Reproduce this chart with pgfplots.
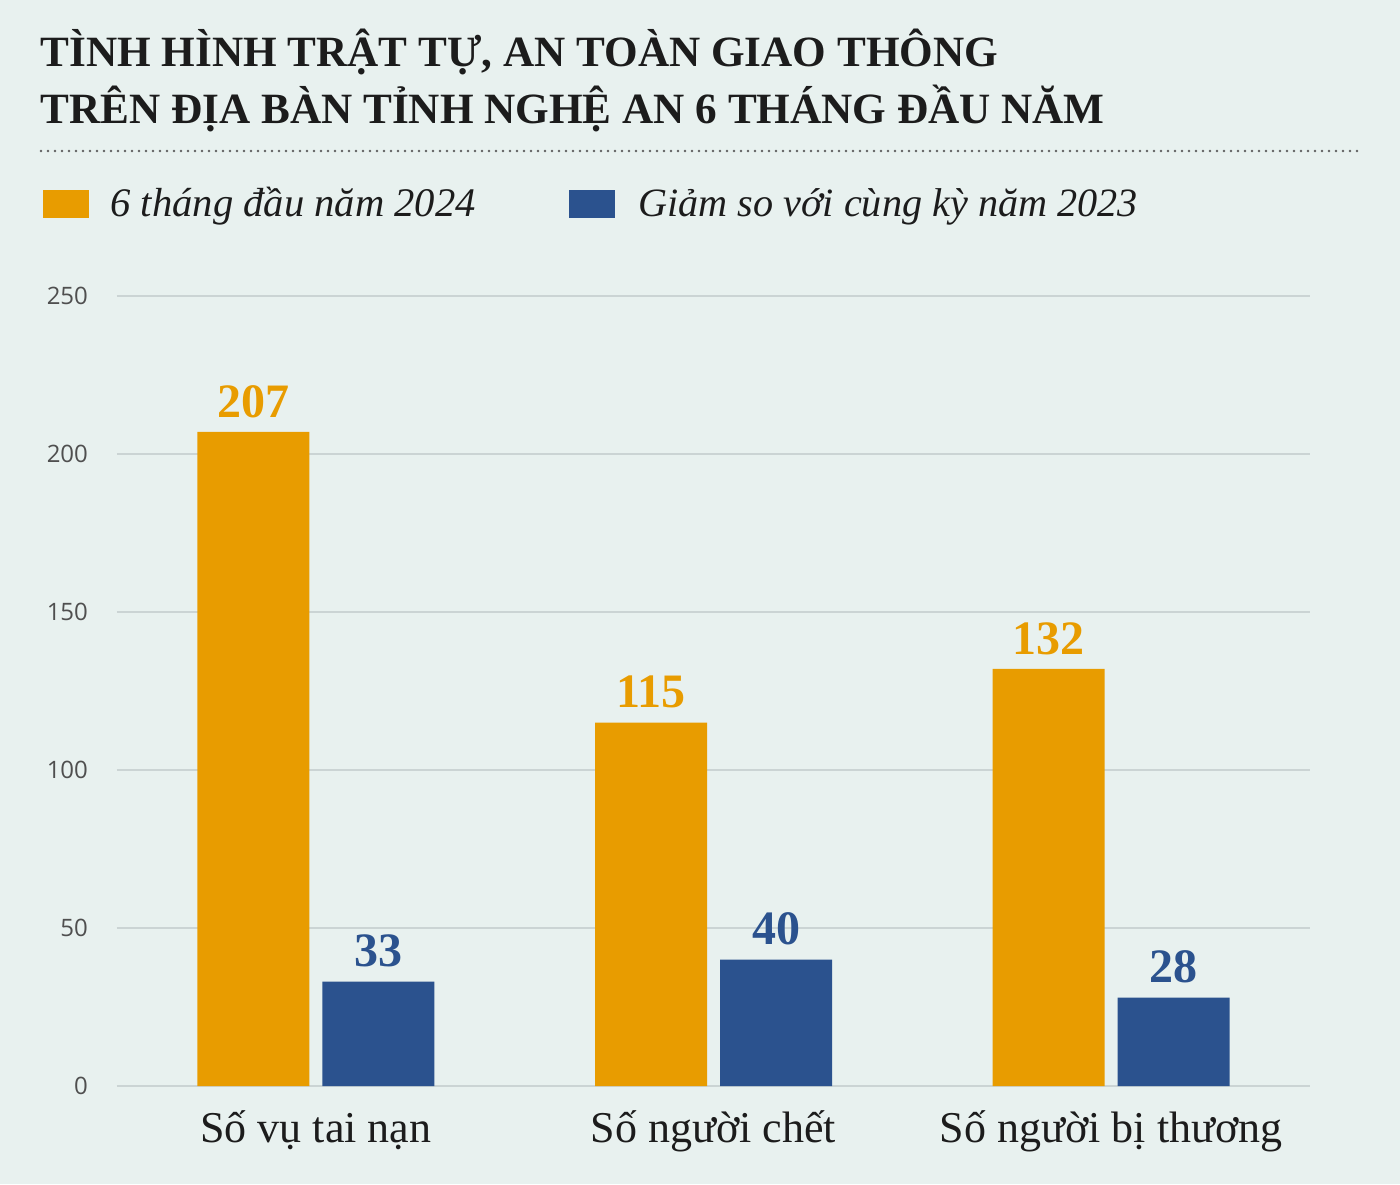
\documentclass[border=0pt]{standalone}
\usepackage{pgfplots}
\pgfplotsset{compat=1.18}
\usepackage{fontspec}
\setmainfont{Liberation Serif}
\newfontfamily\tickfont{Open Sans}
\definecolor{bg}{HTML}{E8F1EF}
\definecolor{cor}{HTML}{E89C00}
\definecolor{cbl}{HTML}{2B528E}
\definecolor{gridc}{HTML}{CBD4D4}
\definecolor{ttl}{HTML}{1C1C1C}
\definecolor{tick}{HTML}{4F4F4F}
\begin{document}
\begin{tikzpicture}
\fill[bg] (0,0) rectangle (700pt,592pt);
% title
\node[anchor=base west, inner sep=0pt, text=ttl, font=\bfseries\fontsize{21.6}{21.6}\selectfont] at (20pt,558.5pt) {TÌNH HÌNH TRẬT TỰ, AN TOÀN GIAO THÔNG};
\node[anchor=base west, inner sep=0pt, text=ttl, font=\bfseries\fontsize{21.6}{21.6}\selectfont] at (20pt,530pt) {TRÊN ĐỊA BÀN TỈNH NGHỆ AN 6 THÁNG ĐẦU NĂM};
\draw[color=ttl!70, line width=1.4pt, line cap=round, dash pattern=on 0pt off 3.5pt] (20.5pt,516.5pt) -- (681pt,516.5pt);
% legend
\fill[cor] (21.5pt,483pt) rectangle (44.5pt,497pt);
\node[anchor=base west, inner sep=0pt, text=ttl, font=\itshape\fontsize{20.3}{20.3}\selectfont] at (55pt,483.5pt) {6 tháng đầu năm 2024};
\fill[cbl] (284.5pt,483pt) rectangle (307.5pt,497pt);
\node[anchor=base west, inner sep=0pt, text=ttl, font=\itshape\fontsize{20.1}{20.1}\selectfont] at (319pt,483.5pt) {Giảm so với cùng kỳ năm 2023};
\begin{axis}[
  at={(58.5pt,49pt)}, anchor=south west,
  scale only axis, width=596.5pt, height=395pt,
  xmin=-0.5, xmax=2.5, ymin=0, ymax=250,
  axis line style={draw=none},
  ybar=0pt, bar width=56pt,
  ytick={0,50,100,150,200,250},
  xtick={0,1,2},
  xticklabels={Số vụ tai nạn, Số người chết, Số người bị thương},
  major tick length=0pt,
  xmajorgrids=false,
  ymajorgrids=true,
  major grid style={draw=gridc, line width=1pt},
  /pgf/number format/assume math mode=true,
  yticklabel style={font=\tickfont\fontsize{12}{12}\selectfont, text=tick, anchor=east, xshift=-11pt},
  xticklabel style={font=\fontsize{22}{22}\selectfont, text=ttl, anchor=base, yshift=-28pt},
  nodes near coords,
  every node near coord/.append style={font=\bfseries\fontsize{24}{24}\selectfont, inner sep=0pt, anchor=south, yshift=7pt},
  clip=false,
]
\addplot[fill=cor, draw=none, bar shift=-31.25pt, nodes near coords style={text=cor}] coordinates {(0,207) (1,115) (2,132)};
\addplot[fill=cbl, draw=none, bar shift=31.25pt, nodes near coords style={text=cbl}] coordinates {(0,33) (1,40) (2,28)};
\end{axis}
\end{tikzpicture}
\end{document}
